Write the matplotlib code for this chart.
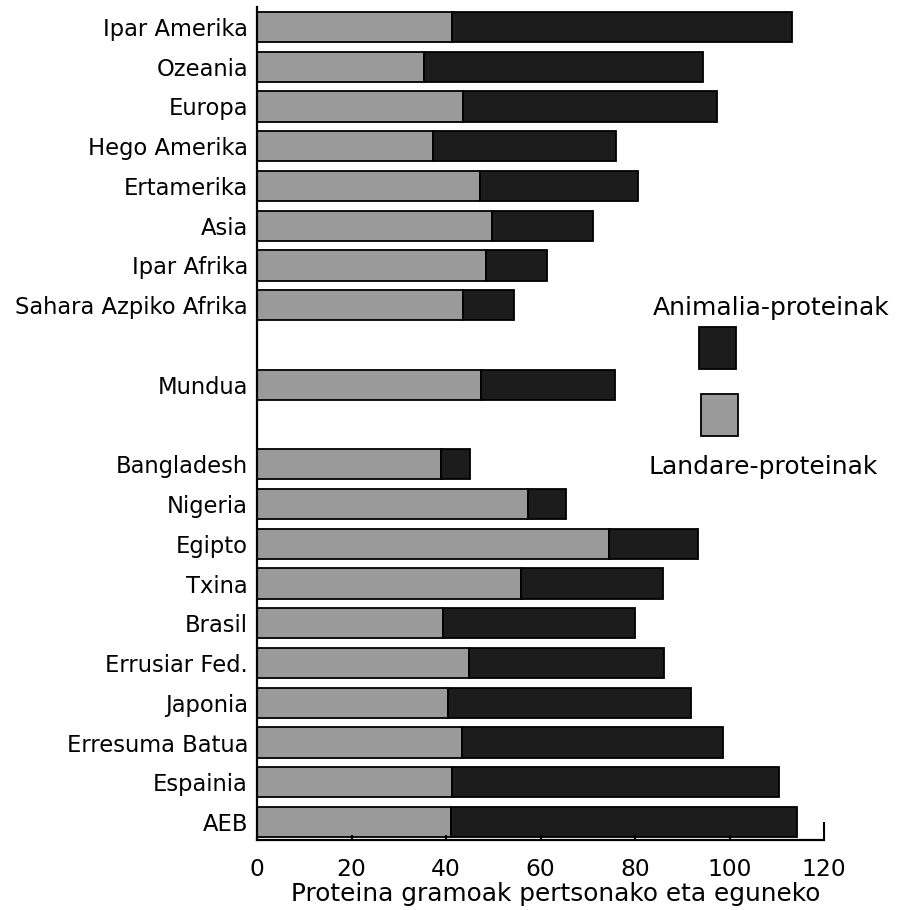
import matplotlib
matplotlib.use("Agg")
import matplotlib.pyplot as plt
from matplotlib.patches import Rectangle
import numpy as np

# Rows from top to bottom; None marks an empty slot
regions = ["Ipar Amerika", "Ozeania", "Europa", "Hego Amerika", "Ertamerika",
           "Asia", "Ipar Afrika", "Sahara Azpiko Afrika", None, "Mundua", None,
           "Bangladesh", "Nigeria", "Egipto", "Txina", "Brasil",
           "Errusiar Fed.", "Japonia", "Erresuma Batua", "Espainia", "AEB"]

# plant protein (g/person/day) and total protein
plant = [41.3, 35.3, 43.7, 37.2, 47.1, 49.8, 48.4, 43.7, None, 47.4, None,
         38.9, 57.4, 74.6, 55.8, 39.3, 44.8, 40.4, 43.4, 41.2, 41.1]
total = [113.3, 94.3, 97.4, 75.9, 80.7, 71.2, 61.4, 54.3, None, 75.7, None,
         45.1, 65.4, 93.3, 85.9, 80.1, 86.2, 91.9, 98.6, 110.4, 114.3]

xticks = [0, 20, 40, 60, 80, 100, 120]

GRAY = "#9a9a9a"
DARK = "#1c1c1c"

plt.rcParams["font.family"] = "DejaVu Sans"

fig = plt.figure(figsize=(8.97, 9.10), dpi=100)
ax = fig.add_axes([257 / 897, 1 - 840 / 910, 567 / 897, 833 / 910])

pos = [i for i, r in enumerate(regions) if r is not None]
p = np.array([plant[i] for i in pos])
t = np.array([total[i] for i in pos])
labels = [regions[i] for i in pos]

ax.barh(pos, p, height=0.76, color=GRAY, edgecolor="black", linewidth=1.3)
ax.barh(pos, t - p, left=p, height=0.76, color=DARK, edgecolor="black",
        linewidth=1.3)

ax.set_ylim(20.45, -0.5)
ax.set_xlim(0, 120)
ax.set_yticks(pos)
ax.set_yticklabels(labels, fontsize=16.3)
ax.tick_params(axis="y", length=0, pad=6.5)
ax.set_xticks(xticks)
ax.set_xticklabels([str(v) for v in xticks], fontsize=16.8)
ax.tick_params(axis="x", direction="in", length=3.5, width=1.5, pad=13)
ax.xaxis.get_major_ticks()[-1].tick1line.set_markersize(13)

for s in ("top", "right"):
    ax.spines[s].set_visible(False)
for s in ("left", "bottom"):
    ax.spines[s].set_linewidth(1.6)

ax.set_xlabel("Proteina gramoak pertsonako eta eguneko", fontsize=17.8)
ax.xaxis.set_label_coords(0.527, -0.051)

# legend drawn by hand
fig.text(771 / 897, 1 - 308 / 910, "Animalia-proteinak", fontsize=18,
         ha="center", va="center")
fig.text(763 / 897, 1 - 467 / 910, "Landare-proteinak", fontsize=18,
         ha="center", va="center")
fig.patches.append(Rectangle((699 / 897, 1 - 369 / 910), 37 / 897, 42 / 910,
                             transform=fig.transFigure, facecolor=DARK,
                             edgecolor="black", linewidth=1.3))
fig.patches.append(Rectangle((701 / 897, 1 - 436 / 910), 37 / 897, 42 / 910,
                             transform=fig.transFigure, facecolor=GRAY,
                             edgecolor="black", linewidth=1.3))

fig.savefig("out.png", dpi=100)
